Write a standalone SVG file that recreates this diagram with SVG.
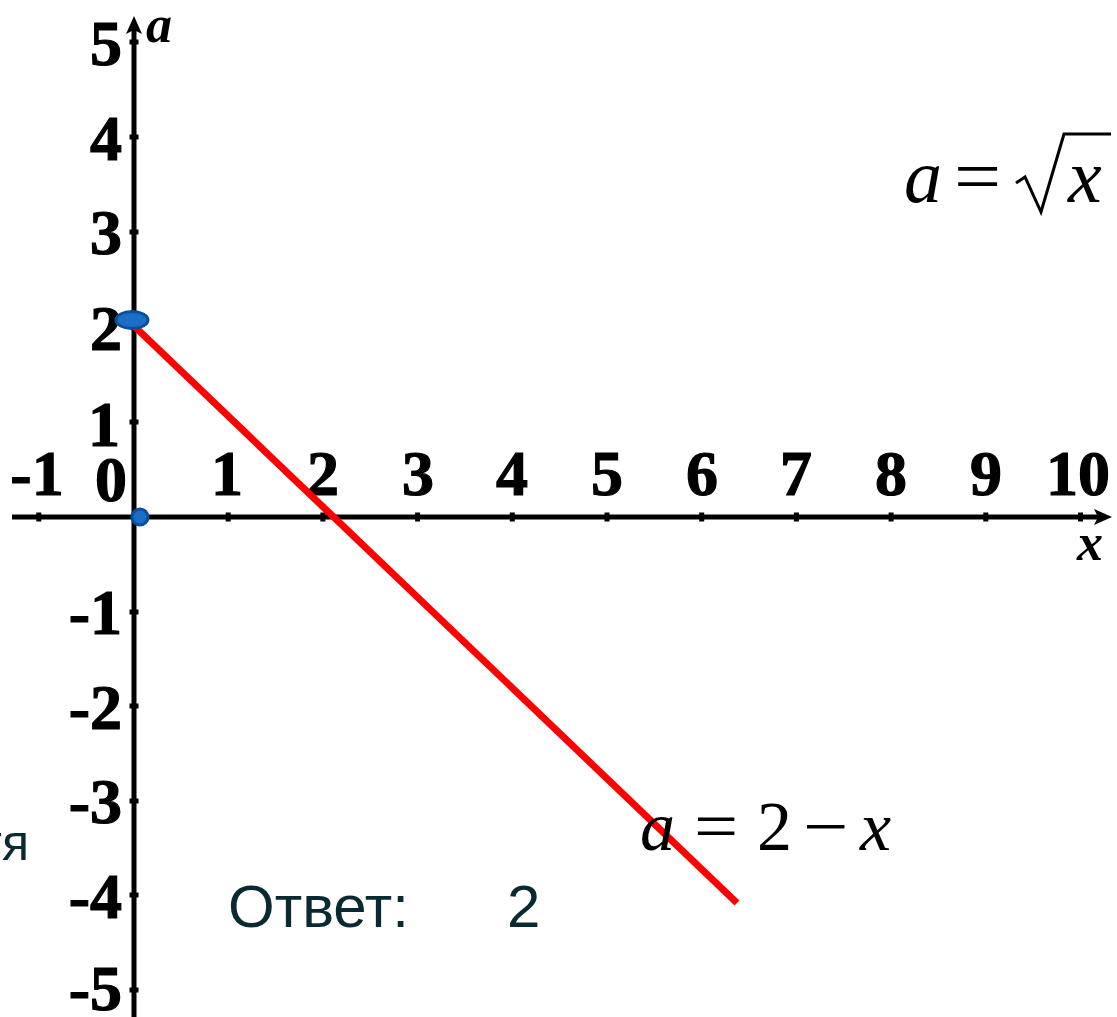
<svg xmlns="http://www.w3.org/2000/svg" width="1117" height="1017" viewBox="0 0 1117 1017">
<style>
.num{font-family:"Liberation Serif","Times New Roman",serif;font-weight:bold;font-size:64px;fill:#000;stroke:#000;stroke-width:1.2}
.axlab{font-family:"Liberation Serif","Times New Roman",serif;font-weight:bold;font-style:italic;font-size:52px;fill:#000}
.fi{font-family:"Liberation Serif","Times New Roman",serif;font-style:italic;fill:#000}
.fr{font-family:"Liberation Serif","Times New Roman",serif;fill:#000}
.ans{font-family:"Liberation Sans",Arial,sans-serif;font-size:60px;fill:#082a30}
.side{font-family:"Liberation Sans",Arial,sans-serif;font-size:50px;fill:#082a30}
.tick{fill:#000}
.axis{stroke:#000;stroke-width:5;fill:none}
.pt{fill:#1a6ec4;stroke:#0b4f9c;stroke-width:3}
</style>
<rect width="1117" height="1017" fill="#fff"/>
<g id="axes">
<line class="axis" x1="12" y1="517" x2="1100" y2="517"/>
<polygon points="1112,517 1094,509 1098,517 1094,525" fill="#000"/>
<line class="axis" x1="134" y1="1017" x2="134" y2="30"/>
<polygon points="134,16 126,34 134,30 142,34" fill="#000"/>
<g id="xticks" class="tick">
<rect x="36.3" y="512.5" width="5" height="9"/>
<rect x="225.7" y="512.5" width="5" height="9"/>
<rect x="320.4" y="512.5" width="5" height="9"/>
<rect x="415.1" y="512.5" width="5" height="9"/>
<rect x="509.8" y="512.5" width="5" height="9"/>
<rect x="604.5" y="512.5" width="5" height="9"/>
<rect x="699.2" y="512.5" width="5" height="9"/>
<rect x="793.9" y="512.5" width="5" height="9"/>
<rect x="888.6" y="512.5" width="5" height="9"/>
<rect x="983.3" y="512.5" width="5" height="9"/>
<rect x="1078" y="512.5" width="5" height="9"/>
</g>
<g id="yticks" class="tick">
<rect x="129.5" y="39.5" width="9" height="5"/>
<rect x="129.5" y="134.5" width="9" height="5"/>
<rect x="129.5" y="229.5" width="9" height="5"/>
<rect x="129.5" y="324.5" width="9" height="5"/>
<rect x="129.5" y="419.5" width="9" height="5"/>
<rect x="129.5" y="609.5" width="9" height="5"/>
<rect x="129.5" y="703.5" width="9" height="5"/>
<rect x="129.5" y="798.5" width="9" height="5"/>
<rect x="129.5" y="892.5" width="9" height="5"/>
<rect x="129.5" y="987.5" width="9" height="5"/>
</g>
<text class="axlab" x="146" y="42">a</text>
<text class="axlab" x="1077" y="560">x</text>
</g>
<g id="xlabels" class="num" text-anchor="middle">
<text x="37" y="495">-1</text>
<text x="111" y="501">0</text>
<text x="227" y="495">1</text>
<text x="323" y="495">2</text>
<text x="418" y="495">3</text>
<text x="512" y="495">4</text>
<text x="607" y="495">5</text>
<text x="702" y="495">6</text>
<text x="796" y="495">7</text>
<text x="891" y="495">8</text>
<text x="986" y="495">9</text>
<text x="1078" y="495">10</text>
</g>
<g id="ylabels" class="num" text-anchor="end">
<text x="122" y="65">5</text>
<text x="122" y="160">4</text>
<text x="122" y="254">3</text>
<text x="122" y="350">2</text>
<text x="120" y="446">1</text>
<text x="122" y="634">-1</text>
<text x="122" y="729">-2</text>
<text x="122" y="823">-3</text>
<text x="122" y="918">-4</text>
<text x="122" y="1010">-5</text>
</g>
<g id="connectors">
<line id="line-a-2-x" x1="133" y1="325" x2="737" y2="903" stroke="#ff0000" stroke-width="7"/>
</g>
<g id="point-0-2">
<ellipse class="pt" cx="132" cy="320" rx="16" ry="8.5"/>
</g>
<g id="point-0-0">
<circle class="pt" cx="140" cy="517" r="8"/>
</g>
<g id="formula-sqrt">
<text class="fi" x="904" y="202" font-size="76">a</text>
<text class="fr" font-size="76" transform="translate(954,202) scale(1.1,1)">=</text>
<path d="M1016,183 L1025,177 L1041,212 L1064,134 L1111,134" fill="none" stroke="#000" stroke-width="3" stroke-linejoin="miter"/>
<text class="fi" x="1068" y="202" font-size="76">x</text>
</g>
<g id="formula-line">
<text class="fi" x="640" y="850" font-size="70">a</text>
<text class="fr" font-size="70" transform="translate(694,850) scale(1.12,1)">=</text>
<text class="fr" x="757" y="850" font-size="70">2</text>
<text class="fr" font-size="70" transform="translate(803,850) scale(1.15,1)">−</text>
<text class="fi" x="860" y="850" font-size="70">x</text>
</g>
<g id="answer">
<text class="ans" x="228" y="927">Ответ:</text>
<text class="ans" x="507" y="927">2</text>
</g>
<text class="side" x="29" y="860" text-anchor="end">тя</text>
</svg>
